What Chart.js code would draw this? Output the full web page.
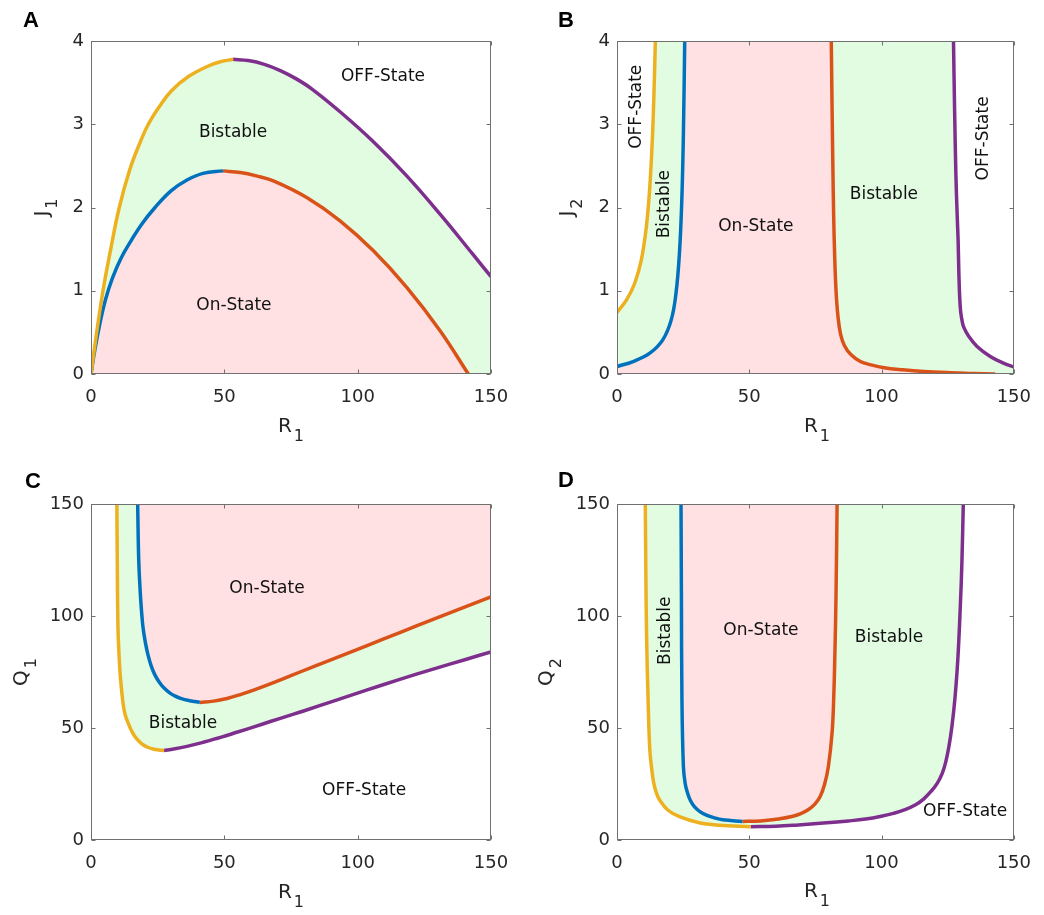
<!DOCTYPE html>
<html>
<head>
<meta charset="utf-8">
<script src="https://cdn.jsdelivr.net/npm/chart.js@4.4.0/dist/chart.umd.min.js"></script>
<style>
    body { margin: 0; background: #fff; }
    #wrap { position: relative; width: 1044px; height: 915px; }
    canvas { position: absolute; }
</style>
</head>
<body>
<div id="wrap">
    <canvas id="chartA" width="522" height="460" style="left:0;top:0"></canvas>
    <canvas id="chartB" width="522" height="460" style="left:522px;top:0"></canvas>
    <canvas id="chartC" width="522" height="455" style="left:0;top:460px"></canvas>
    <canvas id="chartD" width="522" height="455" style="left:522px;top:460px"></canvas>
</div>
<script>
// curve data, [R1, value]
var aYellow = [[0,0],[2,0.47],[4.5,1.0],[7.4,1.5],[10.6,2.0],[14.5,2.45],[18,2.75],[21.5,3.0],[25.8,3.22],[30.1,3.4],[36.4,3.57],[44,3.7],[48.5,3.75],[53.3,3.78]];
var aPurple = [[53.3,3.78],[59,3.765],[65,3.72],[71,3.645],[77,3.545],[83,3.42],[93.4,3.15],[105.9,2.79],[118.4,2.38],[130.9,1.92],[143.4,1.43],[150,1.17]];
var aBlue = [[0,0],[1.5,0.3],[3.3,0.6],[5.5,0.9],[8,1.15],[11.4,1.4],[15,1.6],[19,1.8],[24,2.0],[30,2.2],[36,2.33],[42,2.41],[49.5,2.44]];
var aRed = [[49.5,2.44],[56,2.42],[62,2.38],[68.4,2.32],[80.9,2.12],[93.4,1.84],[105.9,1.48],[118.4,1.04],[130.9,0.52],[141.5,0]];

var bYellow = [[0,0.74],[3.6,0.89],[6.7,1.09],[9.2,1.37],[11.1,1.77],[12.4,2.25],[13.4,2.85],[14.0,3.4],[14.5,4]];
var bBlue = [[0,0.09],[6.1,0.15],[12.4,0.25],[17.3,0.41],[20.5,0.65],[22.3,0.97],[23.6,1.45],[24.5,2.09],[25.1,2.89],[25.6,4]];
var bRed = [[81.0,4],[81.3,3.2],[81.6,2.5],[81.9,1.9],[82.3,1.4],[82.8,1.0],[83.5,0.7],[84.5,0.48],[86,0.34],[88.5,0.23],[92,0.15],[96,0.11],[101,0.075],[108,0.05],[116,0.03],[126,0.015],[135,0.006],[143,0]];
var bPurple = [[127.2,4],[127.6,3.2],[128.1,2.4],[128.6,1.9],[128.95,1.6],[129.2,1.25],[129.5,0.95],[129.9,0.75],[130.5,0.63],[131.1,0.56],[133,0.45],[136.1,0.33],[141.1,0.21],[146.1,0.13],[150,0.085]];

var cYellow = [[9.7,150],[9.85,125],[10.1,95.5],[10.5,83],[11.0,73.1],[12.0,61.2],[12.8,56],[13.9,52.3],[15,49.2],[16.4,46.3],[17.9,44.2],[19.5,42.5],[21.3,41.4],[23.25,40.6],[25.3,40.2],[27.4,40.0]];
var cPurple = [[27.4,40.0],[31,40.6],[36.4,41.9],[42,43.6],[48.9,45.9],[55,48.2],[61.4,50.6],[67.5,53],[73.9,55.4],[80,57.7],[90.9,62.0],[103.3,66.9],[115.8,71.7],[128.3,76.3],[140.8,80.7],[150,84.0]];
var cBlue = [[17.5,150],[17.9,125],[18.5,110],[18.9,103],[19.5,95],[20.4,88.1],[21.4,82.5],[22.6,77.6],[24,73.6],[25.75,70.2],[27.5,67.7],[29.5,65.7],[31.6,64.2],[33.9,63.1],[37,62.2],[40.8,61.4]];
var cRed = [[40.8,61.4],[46,62],[51,63.2],[56,64.9],[61,66.9],[66,69.1],[72,71.9],[78.4,75.0],[90.9,80.9],[103.3,86.7],[115.8,92.6],[128.3,98.5],[140.8,104.3],[150,108.5]];

var dYellow = [[10.7,150],[10.9,120],[11.2,90],[11.75,62.7],[12.4,40.3],[13.2,31],[13.9,25.4],[14.9,21],[16.1,17.9],[19.2,13.4],[23.6,10.4],[31.1,7.7],[38.6,6.6],[50.5,5.9]];
var dBlue = [[24.2,150],[24.35,110],[24.55,62.7],[25.1,32.8],[25.8,25],[26.7,20.9],[27.8,17.5],[29.25,14.9],[31.2,12.8],[33.6,11.2],[36.5,10],[39.9,9.0],[47.4,8.3]];
var dRed = [[47.4,8.3],[52,8.4],[56.1,8.7],[61,9.4],[66.1,10.5],[69.5,11.8],[72.4,13.6],[74.8,16],[76.8,19.4],[78.5,25],[79.9,32.8],[81.3,47.8],[81.9,62.7],[82.4,85],[82.8,110],[83.2,150]];
var dPurple = [[50.5,5.9],[60,6.15],[68.6,6.75],[78,7.55],[87.4,8.5],[94,9.35],[99.9,10.6],[104.5,11.9],[108.6,13.4],[112.7,15.6],[116.1,18.5],[119,22.1],[121.1,25.4],[122.9,29.6],[124.3,35.0],[125.5,42.0],[126.6,50.7],[127.7,62.7],[128.8,80],[129.8,105],[130.4,125],[130.9,150]];

var xTicks = [0, 50, 100, 150];
var jTicks = [0, 1, 2, 3, 4];
var qTicks = [0, 50, 100, 150];

var YEL = '#EDB120', BLU = '#0072BD', RED = '#D95319', PUR = '#7E2F8E';
var GREEN = 'rgb(225,252,225)', PINK = 'rgb(255,225,228)', WHITE = '#ffffff';
var TXT = '#262626';
var FONT = '"DejaVu Sans", sans-serif';

function pts(arr) {
    return arr.map(function(p) { return {x: p[0], y: p[1]}; });
}

function join(a, b) {
    var first = b[0], last = a[a.length - 1];
    var rest = (first[0] === last[0] && first[1] === last[1]) ? b.slice(1) : b;
    return pts(a.concat(rest));
}

function curve(data, color) {
    return {data: pts(data), borderColor: color, borderWidth: 3.5, pointRadius: 0,
        fill: false, tension: 0.4};
}

function area(data, color, to) {
    return {data: data, borderWidth: 0, borderColor: 'rgba(0,0,0,0)', backgroundColor: color,
        pointRadius: 0, fill: to, tension: 0.4};
}

function subText(ctx, main, sub, x, y, rot) {
    ctx.save();
    ctx.translate(x, y);
    if (rot) ctx.rotate(-Math.PI / 2);
    ctx.fillStyle = TXT;
    ctx.textBaseline = 'alphabetic';
    ctx.textAlign = 'left';
    ctx.font = '20px ' + FONT;
    var w1 = ctx.measureText(main).width;
    ctx.font = '16px ' + FONT;
    var w2 = ctx.measureText(sub).width;
    var start = -(w1 + 2 + w2) / 2;
    ctx.font = '20px ' + FONT;
    ctx.fillText(main, start, 0);
    ctx.font = '16px ' + FONT;
    ctx.fillText(sub, start + w1 + 2, 9);
    ctx.restore();
}

var decor = {
    id: 'decor',
    afterDraw: function(chart, args, o) {
        var ctx = chart.ctx, a = chart.chartArea;
        var sx = chart.scales.x, sy = chart.scales.y;
        ctx.save();

        // region labels
        o.labels.forEach(function(l) {
            ctx.save();
            ctx.translate(sx.getPixelForValue(l.x), sy.getPixelForValue(l.y));
            if (l.rot) ctx.rotate(-Math.PI / 2);
            ctx.font = '17px ' + FONT;
            ctx.fillStyle = '#111';
            ctx.textAlign = 'center';
            ctx.textBaseline = 'middle';
            ctx.fillText(l.text, 0, 0);
            ctx.restore();
        });

        // box and inward ticks
        ctx.strokeStyle = '#707070';
        ctx.lineWidth = 1;
        var L = Math.round(a.left) + 0.5, R = Math.round(a.right) - 0.5;
        var T = Math.round(a.top) + 0.5, B = Math.round(a.bottom) - 0.5;
        ctx.strokeRect(L, T, R - L, B - T);
        ctx.beginPath();
        o.xt.forEach(function(v) {
            var px = Math.round(sx.getPixelForValue(v)) + 0.5;
            ctx.moveTo(px, B); ctx.lineTo(px, B - 4);
            ctx.moveTo(px, T); ctx.lineTo(px, T + 4);
        });
        o.yt.forEach(function(v) {
            var py = Math.round(sy.getPixelForValue(v)) + 0.5;
            ctx.moveTo(L, py); ctx.lineTo(L + 4, py);
            ctx.moveTo(R, py); ctx.lineTo(R - 4, py);
        });
        ctx.stroke();

        // axis titles
        subText(ctx, 'R', '1', o.xTitle[0], o.xTitle[1], false);
        subText(ctx, o.yName[0], o.yName[1], o.yTitle[0], o.yTitle[1], true);

        // panel letter
        ctx.font = 'bold 22px "Liberation Sans", Arial, sans-serif';
        ctx.fillStyle = '#000';
        ctx.textAlign = 'left';
        ctx.textBaseline = 'alphabetic';
        ctx.fillText(o.letter[0], o.letter[1], o.letter[2]);
        ctx.restore();
    }
};

function panel(id, datasets, yMax, yStep, dims, deco) {
    deco.xt = xTicks;
    deco.yt = yMax === 4 ? jTicks : qTicks;
    return new Chart(document.getElementById(id), {
        type: 'line',
        data: {datasets: datasets},
        options: {
            responsive: false,
            animation: false,
            events: [],
            layout: {padding: {left: 0, top: dims.top, right: dims.right, bottom: 0}},
            plugins: {
                legend: {display: false},
                tooltip: {enabled: false},
                filler: {propagate: false},
                decor: deco
            },
            scales: {
                x: {
                    type: 'linear', min: 0, max: 150,
                    grid: {display: false, drawTicks: false},
                    border: {display: false},
                    ticks: {stepSize: 50, color: TXT, font: {family: FONT, size: 18}, padding: 13, maxRotation: 0},
                    afterFit: function(s) { s.height = dims.xh; }
                },
                y: {
                    type: 'linear', min: 0, max: yMax,
                    grid: {display: false, drawTicks: false},
                    border: {display: false},
                    ticks: {stepSize: yStep, color: TXT, font: {family: FONT, size: 18}, padding: 7},
                    afterFit: function(s) { s.width = dims.yw; }
                }
            }
        },
        plugins: [decor]
    });
}

panel('chartA', [
    curve(aYellow, YEL), curve(aPurple, PUR), curve(aBlue, BLU), curve(aRed, RED),
    area(join(aBlue, aRed), PINK, 'origin'),
    area(join(aYellow, aPurple), GREEN, 'origin')
], 4, 1, {top: 41, right: 31, xh: 86, yw: 91}, {
    letter: ['A', 23, 27], xTitle: [291, 432], yTitle: [48, 207.5], yName: ['J', '1'],
    labels: [
        {text: 'OFF-State', x: 109.5, y: 3.57},
        {text: 'Bistable', x: 53.3, y: 2.9},
        {text: 'On-State', x: 53.6, y: 0.82}
    ]
});

// panel B is layered: pink base, green above blue/red, white beyond yellow/purple
var bTop = 4;
var bTail = bRed[bRed.length - 2][0];
panel('chartB', [
    curve(bYellow, YEL), curve(bBlue, BLU), curve(bRed, RED), curve(bPurple, PUR),
    area(pts(bYellow), WHITE, 'end'),
    area(pts(bPurple), WHITE, 'end'),
    area(pts(bBlue), GREEN, 'end'),
    area(pts(bRed), GREEN, 'end'),
    area(pts([[bTail, bTop], [150, bTop]]), GREEN, 'origin'),
    area(pts([[0, bTop], [150, bTop]]), PINK, 'origin')
], bTop, 1, {top: 41, right: 27, xh: 86, yw: 95}, {
    letter: ['B', 36, 27], xTitle: [295, 432], yTitle: [51, 207.5], yName: ['J', '2'],
    labels: [
        {text: 'OFF-State', x: 7.5, y: 3.21, rot: true},
        {text: 'Bistable', x: 18.0, y: 2.04, rot: true},
        {text: 'On-State', x: 52.5, y: 1.77},
        {text: 'Bistable', x: 100.9, y: 2.16},
        {text: 'OFF-State', x: 138.4, y: 2.83, rot: true}
    ]
});

panel('chartC', [
    curve(cYellow, YEL), curve(cPurple, PUR), curve(cBlue, BLU), curve(cRed, RED),
    area(join(cBlue, cRed), PINK, 'end'),
    area(join(cYellow, cPurple), GREEN, 'end')
], 150, 50, {top: 44, right: 31, xh: 75, yw: 91}, {
    letter: ['C', 25, 28], xTitle: [291, 438], yTitle: [27, 212], yName: ['Q', '1'],
    labels: [
        {text: 'On-State', x: 66, y: 112.4},
        {text: 'Bistable', x: 34.5, y: 51.9},
        {text: 'OFF-State', x: 102.4, y: 21.9}
    ]
});

panel('chartD', [
    curve(dYellow, YEL), curve(dPurple, PUR), curve(dBlue, BLU), curve(dRed, RED),
    area(join(dBlue, dRed), PINK, 'end'),
    area(join(dYellow, dPurple), GREEN, 'end')
], 150, 50, {top: 44, right: 27, xh: 75, yw: 95}, {
    letter: ['D', 36, 27], xTitle: [295, 437], yTitle: [30, 212], yName: ['Q', '2'],
    labels: [
        {text: 'Bistable', x: 18.2, y: 93.4, rot: true},
        {text: 'On-State', x: 54.4, y: 93.6},
        {text: 'Bistable', x: 102.8, y: 90.5},
        {text: 'OFF-State', x: 131.6, y: 12.5}
    ]
});
</script>
</body>
</html>
